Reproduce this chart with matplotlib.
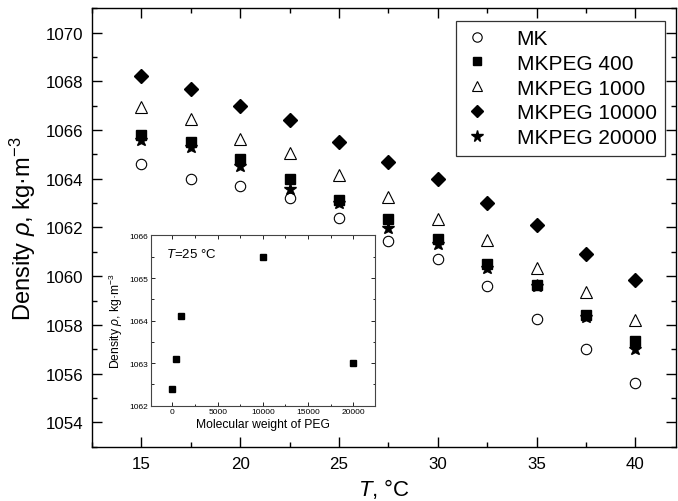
import matplotlib
matplotlib.use("Agg")
import matplotlib.pyplot as plt
from matplotlib.ticker import MultipleLocator

plt.rcParams['font.family'] = ['Liberation Sans', 'DejaVu Sans']
plt.rcParams['mathtext.fontset'] = 'custom'
plt.rcParams['mathtext.rm'] = 'Liberation Sans'
plt.rcParams['mathtext.it'] = 'Liberation Sans:italic'
plt.rcParams['mathtext.bf'] = 'Liberation Sans:bold'

# Temperature, degC
temperature = [15, 17.5, 20, 22.5, 25, 27.5, 30, 32.5, 35, 37.5, 40]

# Density, kg/m^3
mk = [1064.61, 1064.01, 1063.69, 1063.20, 1062.40, 1061.44, 1060.70, 1059.60, 1058.25, 1057.01, 1055.60]
mkpeg_400 = [1065.81, 1065.53, 1064.83, 1064.01, 1063.12, 1062.33, 1061.51, 1060.50, 1059.62, 1058.42, 1057.33]
mkpeg_1000 = [1066.94, 1066.46, 1065.63, 1065.06, 1064.17, 1063.26, 1062.36, 1061.47, 1060.33, 1059.36, 1058.22]
mkpeg_10000 = [1068.20, 1067.70, 1067.00, 1066.40, 1065.50, 1064.69, 1064.00, 1063.01, 1062.09, 1060.90, 1059.85]
mkpeg_20000 = [1065.60, 1065.29, 1064.51, 1063.59, 1063.01, 1061.99, 1061.31, 1060.33, 1059.60, 1058.31, 1057.01]

# Inset: density at 25 degC versus PEG molecular weight
peg_mw = [0, 400, 1000, 10000, 20000]
density_25 = [1062.40, 1063.10, 1064.10, 1065.50, 1063.00]

fig = plt.figure(figsize=(6.78, 5.02), dpi=100)
ax = fig.add_axes([0.1357, 0.1082, 0.9970 - 0.1357, 0.9815 - 0.1082])

ms = 7.5
ax.plot(temperature, mk, ls='none', marker='o', ms=ms, mfc='white', mec='black', mew=0.8, label='MK')
ax.plot(temperature, mkpeg_400, ls='none', marker='s', ms=ms - 0.5, mfc='black', mec='black', label='MKPEG 400')
ax.plot(temperature, mkpeg_1000, ls='none', marker='^', ms=ms + 0.5, mfc='white', mec='black', mew=0.8, label='MKPEG 1000')
ax.plot(temperature, mkpeg_10000, ls='none', marker='D', ms=ms - 0.5, mfc='black', mec='black', label='MKPEG 10000')
ax.plot(temperature, mkpeg_20000, ls='none', marker='*', ms=ms + 2, mfc='black', mec='black', label='MKPEG 20000')

ax.set_xlim(12.5, 42.05)
ax.set_ylim(1053.0, 1071.0)
ax.xaxis.set_major_locator(MultipleLocator(5))
ax.xaxis.set_minor_locator(MultipleLocator(2.5))
ax.yaxis.set_major_locator(MultipleLocator(2))
ax.yaxis.set_minor_locator(MultipleLocator(1))
ax.tick_params(which='both', direction='in', top=True, right=True, width=1.0, labelsize=12.2)
ax.tick_params(which='major', length=7)
ax.tick_params(which='minor', length=3.5)
ax.tick_params(axis='x', pad=7)
ax.tick_params(axis='y', pad=6)
for s in ax.spines.values():
    s.set_linewidth(1.0)

ax.set_xlabel(r'$T$, °C', fontsize=16, labelpad=3)
ax.set_ylabel(r'Density $\rho$, kg·m$^{-3}$', fontsize=17, labelpad=6)

leg = ax.legend(loc='upper right', bbox_to_anchor=(0.981, 0.972), borderaxespad=0,
                fontsize=15, frameon=True, fancybox=False, edgecolor='black',
                handlelength=1.2, handletextpad=1.3, labelspacing=0.28,
                borderpad=0.4, markerscale=0.9)
leg.get_frame().set_linewidth(0.9)

# Inset
ins = fig.add_axes([0.2223, 0.1898, 0.5531 - 0.2223, 0.5289 - 0.1898])
ins.plot(peg_mw, density_25, ls='none', marker='s', ms=4.2, mfc='black', mec='black')
ins.set_xlim(-2400, 22400)
ins.set_ylim(1062, 1066)
ins.xaxis.set_major_locator(MultipleLocator(5000))
ins.xaxis.set_minor_locator(MultipleLocator(2500))
ins.yaxis.set_major_locator(MultipleLocator(1))
ins.yaxis.set_minor_locator(MultipleLocator(0.5))
ins.tick_params(which='both', direction='in', top=True, right=True, width=0.6, labelsize=6, pad=2)
ins.tick_params(which='major', length=3)
ins.tick_params(which='minor', length=1.8)
for s in ins.spines.values():
    s.set_linewidth(0.8)
    s.set_color('#444444')
ins.set_xlabel('Molecular weight of PEG', fontsize=8.7, labelpad=2)
ins.set_ylabel(r'Density $\rho$, kg·m$^{-3}$', fontsize=8.7, labelpad=3)
ins.text(0.07, 0.93, r'$T$=25 °C', transform=ins.transAxes, fontsize=9.5, va='top', ha='left')

fig.savefig('out.png', dpi=100)
